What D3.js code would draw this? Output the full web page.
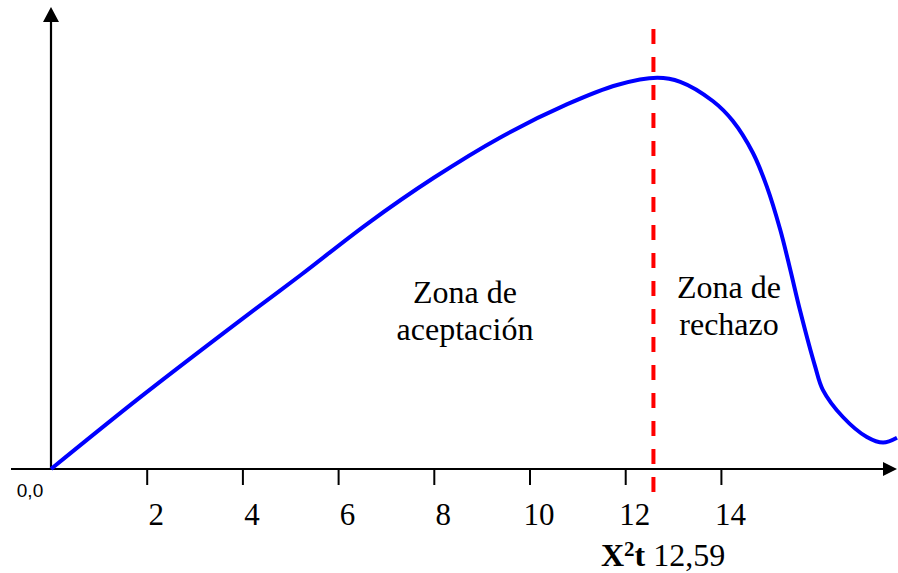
<!DOCTYPE html>
<html>
<head>
<meta charset="utf-8">
<script src="https://cdn.jsdelivr.net/npm/d3@7"></script>
<style>
  body { margin: 0; background: #fff; }
  svg { display: block; }
</style>
</head>
<body>
<svg id="chart" width="898" height="573"></svg>
<script>
// Curva chi-cuadrado (aprox.)
const curveX = [0, 1.88, 3.97, 5.22, 6.61, 8.0, 9.39, 10.79, 11.83, 12.67, 13.15, 13.83, 14.25, 14.67, 14.96, 15.24, 15.45, 15.65, 15.97, 16.13, 16.55, 17.05, 17.39, 17.68];
const curveY = [0, 18.1, 37.3, 48.5, 61.3, 72.8, 82.9, 91.2, 96.0, 97.8, 96.8, 92.0, 87.0, 79.0, 70.6, 59.8, 49.8, 39.8, 25.6, 19.8, 13.0, 8.0, 6.6, 7.8];

const tickValues = [2, 4, 6, 8, 10, 12, 14];
const criticalValue = 12.59;
const criticalLabel = "12,59";
const originLabel = "0,0";
const acceptLines = ["Zona de", "aceptación"];
const rejectLines = ["Zona de", "rechazo"];

const svg = d3.select('#chart');

// escalas
const x = d3.scaleLinear().domain([0, 17.68]).range([51, 897]);
const y = d3.scaleLinear().domain([0, 100]).range([469, 69]);

const axisY = y(0);
const axisX = x(0);

// eje X
svg.append('line')
    .attr('x1', 11)
    .attr('y1', axisY)
    .attr('x2', 884)
    .attr('y2', axisY)
    .attr('stroke', 'black')
    .attr('stroke-width', 2.2);

svg.append('polygon')
    .attr('points', `897,${axisY} 883,${axisY - 7} 883,${axisY + 7}`)
    .attr('fill', 'black');

// eje Y
svg.append('line')
    .attr('x1', axisX)
    .attr('y1', axisY)
    .attr('x2', axisX)
    .attr('y2', 20)
    .attr('stroke', 'black')
    .attr('stroke-width', 2.2);

svg.append('polygon')
    .attr('points', `${axisX},7 ${axisX - 8},22 ${axisX + 8},22`)
    .attr('fill', 'black');

// ticks
const xAxis = d3.axisBottom(x)
    .tickValues(tickValues)
    .tickSize(16)
    .tickFormat(d3.format('d'));

const gx = svg.append('g')
    .attr('transform', `translate(0,${axisY})`)
    .call(xAxis);

gx.select('.domain').remove();
gx.selectAll('.tick line')
    .attr('stroke', 'black')
    .attr('stroke-width', 2);
gx.selectAll('.tick text')
    .attr('x', 9)
    .attr('y', 56)
    .attr('dy', 0)
    .attr('fill', 'black')
    .style('font-family', '"Liberation Serif", "Times New Roman", serif')
    .style('font-size', '31px');

// origen
svg.append('text')
    .attr('x', 30)
    .attr('y', 497)
    .attr('text-anchor', 'middle')
    .style('font-family', '"Liberation Sans", Arial, sans-serif')
    .style('font-size', '19px')
    .text(originLabel);

// curva
const line = d3.line()
    .x(d => x(d[0]))
    .y(d => y(d[1]))
    .curve(d3.curveCatmullRom.alpha(0.5));

svg.append('path')
    .datum(d3.zip(curveX, curveY))
    .attr('d', line)
    .attr('fill', 'none')
    .attr('stroke', '#0000ff')
    .attr('stroke-width', 4)
    .attr('stroke-linejoin', 'round');

// valor crítico
svg.append('line')
    .attr('x1', x(criticalValue))
    .attr('y1', 29)
    .attr('x2', x(criticalValue))
    .attr('y2', 493)
    .attr('stroke', '#ff0000')
    .attr('stroke-width', 4)
    .attr('stroke-dasharray', '15,13');

const crit = svg.append('text')
    .attr('x', 601)
    .attr('y', 566)
    .style('font-family', '"Liberation Serif", "Times New Roman", serif')
    .style('font-size', '32px');

crit.append('tspan').attr('font-weight', 'bold').text('X');
crit.append('tspan')
    .attr('font-weight', 'bold')
    .attr('dy', -10)
    .style('font-size', '21px')
    .text('2');
crit.append('tspan').attr('font-weight', 'bold').attr('dy', 10).text('t');
crit.append('tspan').text(' ' + criticalLabel);

// etiquetas de zonas
function zoneText(lines, cx, baseY) {
    const t = svg.append('text')
        .attr('text-anchor', 'middle')
        .style('font-family', '"Liberation Serif", "Times New Roman", serif')
        .style('font-size', '32px');
    lines.forEach((s, i) => {
        t.append('tspan')
            .attr('x', cx)
            .attr('y', baseY + i * 37)
            .text(s);
    });
}

zoneText(acceptLines, 465, 303);
zoneText(rejectLines, 729, 298);
</script>
</body>
</html>
